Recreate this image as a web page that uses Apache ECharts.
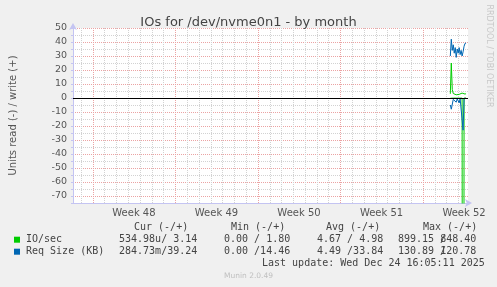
<!DOCTYPE html>
<html><head><meta charset="utf-8">
<script src="https://cdn.jsdelivr.net/npm/echarts@6/dist/echarts.min.js"></script>
<style>html,body{margin:0;padding:0;background:#f0f0f0}#c{width:497px;height:287px}</style>
</head><body><div id="c"></div>
<script>
// ---- data (x = hours from left edge of the month window) ----
const weekLabels = ['Week 48', 'Week 49', 'Week 50', 'Week 51', 'Week 52'];
const weekLabelHours = [124, 292, 460, 628, 796];
const weekStartHours = [40, 208, 376, 544, 712];
const hours    = [768, 770, 772, 774, 776, 778, 780, 782, 784, 786, 788, 790, 792, 794, 796, 798, 800];
const ioWrite  = [3, 25, 6, 3.2, 2.6, 2.4, 2.3, 2.3, 2.4, 2.6, 3.0, 3.6, 3.5, 3.6, 3.0, 2.8, 3.14];
const ioRead   = [0.2, 0.3, 0.2, 0.1, 0.1, 0.1, 0.1, 0.1, 0.1, 0.1, 0.1, 0.1, 0.1, 899.15, 0.1, 0.01, 0.0005];
const reqWrite = [30, 42, 34, 38, 32, 36, 29, 35, 32, 36, 31, 34, 30, 33, 37, 39, 39.24];
const reqRead  = [5, 8, 7.5, 1, 0.5, 0.8, 3, 0.6, 1, 3.5, 0.5, 1, 1, 23, 0.3, 0.3, 0.28];

const legendRows = ['IO/sec', 'Req Size (KB)'];
const legendColors = ['#00cc00', '#0066b3'];
const curVals = ['534.98u/ 3.14', '284.73m/39.24'];
const minVals = ['0.00 / 1.80', '0.00 /14.46'];
const avgVals = ['4.67 / 4.98', '4.49 /33.84'];
const maxVals = ['899.15 848.40', '130.89 120.78'];
const headers = ['Cur (-/+)', 'Min (-/+)', 'Avg (-/+)', 'Max (-/+)'];

// grid line positions (hours), one per day
const dayLines = [];
for (let h = 16; h <= 804; h += 24) dayLines.push(h);

const pair = (vals, sign) => hours.map((h, i) => [h, sign * vals[i]]);

const axisCol = '#c4c4f2';
const minorCol = '#d2d2d2';
const majorCol = '#eba3a3';
const mono = 'DejaVu Sans Mono';
const sans = 'DejaVu Sans';

const vLine = color => (params, api) => {
  const cs = params.coordSys;
  const x = Math.round(api.coord([api.value(0), 0])[0]) + 0.5;
  return { type: 'line', silent: true,
    shape: { x1: x, y1: cs.y, x2: x, y2: cs.y + cs.height },
    style: { stroke: color, lineWidth: 1, lineDash: [1, 1] } };
};

const graphics = [];
const txt = (text, x, y, font, fill, align, extra) => Object.assign({
  type: 'text', x, y, silent: true,
  style: { text, font, fill, textAlign: align || 'left', textVerticalAlign: 'middle' }
}, extra || {});

const hdrX = [134, 231, 326, 423];
headers.forEach((h, i) => graphics.push(txt(h, hdrX[i], 227.5, '10px ' + mono, '#444')));
legendRows.forEach((name, r) => {
  const y = 239.7 + r * 12;
  graphics.push({ type: 'rect', shape: { x: 14, y: y - 3, width: 6, height: 6 }, style: { fill: legendColors[r] }, silent: true });
  graphics.push(txt(name, 26, y, '10px ' + mono, '#444'));
  graphics.push(txt(curVals[r], 119, y, '10px ' + mono, '#444'));
  graphics.push(txt(minVals[r], 224, y, '10px ' + mono, '#444'));
  graphics.push(txt(avgVals[r], 317, y, '10px ' + mono, '#444'));
  graphics.push(txt(maxVals[r], 398, y, '10px ' + mono, '#444'));
  graphics.push(txt('/', 440, y, '10px ' + mono, '#444'));
});
graphics.push(txt('Last update: Wed Dec 24 16:05:11 2025', 262, 263.5, '10px ' + mono, '#444'));
graphics.push(txt('Munin 2.0.49', 248.5, 276.5, '7.5px ' + sans, '#c0c0c0', 'center'));
graphics.push(txt('RRDTOOL / TOBI OETIKER', 489, 56, '8px ' + sans, '#c8c8c8', 'center', { rotation: -Math.PI / 2 }));

const chart = echarts.init(document.getElementById('c'), null, { renderer: 'canvas' });
chart.setOption({
  animation: false,
  backgroundColor: '#f0f0f0',
  title: {
    text: 'IOs for /dev/nvme0n1 - by month', left: 'center', top: 11,
    textStyle: { fontFamily: sans, fontSize: 13, fontWeight: 'normal', color: '#444' }
  },
  grid: { left: 66, top: 28, width: 402, height: 175, show: true, backgroundColor: '#ffffff', borderWidth: 0 },
  xAxis: {
    type: 'value', min: 0, max: 804,
    axisLine: { onZero: false, lineStyle: { color: axisCol }, symbol: ['none', 'arrow'], symbolSize: [6, 7], symbolOffset: [0, 4] },
    axisTick: { show: false },
    splitLine: { show: false },
    axisLabel: {
      customValues: weekLabelHours,
      formatter: v => { const i = weekLabelHours.indexOf(v); return i >= 0 ? weekLabels[i] : ''; },
      fontFamily: sans, fontSize: 10, color: '#555', margin: 5
    }
  },
  yAxis: {
    type: 'value', min: -75, max: 50, interval: 5,
    name: 'Units read (-) / write (+)', nameLocation: 'middle', nameGap: 55, nameRotate: 90,
    nameTextStyle: { fontFamily: sans, fontSize: 10, color: '#555' },
    axisLine: { lineStyle: { color: axisCol }, symbol: ['none', 'arrow'], symbolSize: [6, 7], symbolOffset: [0, 5] },
    axisTick: { show: true, length: 2, lineStyle: { color: axisCol } },
    splitLine: { show: true, lineStyle: { color: [minorCol, majorCol], type: [1, 1], width: 1 } },
    axisLabel: {
      formatter: v => (v % 10 === 0 ? String(v) : ''),
      fontFamily: sans, fontSize: 9.5, color: '#555', margin: 6
    }
  },
  series: [
    { name: 'day grid', type: 'custom', renderItem: vLine(minorCol), data: dayLines.map(h => [h]), z: 1, silent: true, clip: true },
    { name: 'week grid', type: 'custom', renderItem: vLine(majorCol), data: weekStartHours.map(h => [h]), z: 1, silent: true, clip: true },
    { name: 'IO read', type: 'line', data: pair(ioRead, -1), showSymbol: false, lineStyle: { color: '#00cc00', width: 1 } },
    { name: 'IO write', type: 'line', data: pair(ioWrite, 1), showSymbol: false, lineStyle: { color: '#00cc00', width: 1 } },
    { name: 'Req read', type: 'line', data: pair(reqRead, -1), showSymbol: false, lineStyle: { color: '#0066b3', width: 1 } },
    { name: 'Req write', type: 'line', data: pair(reqWrite, 1), showSymbol: false, lineStyle: { color: '#0066b3', width: 1 },
      markLine: { silent: true, symbol: ['none', 'none'], z: 6, animation: false, label: { show: false },
        data: [{ yAxis: 0, lineStyle: { color: '#000', type: 'solid', width: 1 } }] } }
  ],
  graphic: graphics
});
</script></body></html>
